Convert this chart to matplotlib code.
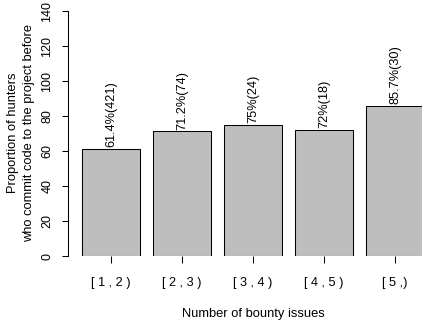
import matplotlib
matplotlib.use("Agg")
import matplotlib.pyplot as plt

plt.rcParams['font.family'] = ['Liberation Sans', 'DejaVu Sans']

categories = ["[ 1 , 2 )", "[ 2 , 3 )", "[ 3 , 4 )", "[ 4 , 5 )", "[ 5 ,)"]
proportions = [61.4, 71.2, 75, 72, 85.7]
bar_labels = ["61.4%(421)", "71.2%(74)", "75%(24)", "72%(18)", "85.7%(30)"]
y_ticks = [0, 20, 40, 60, 80, 100, 120, 140]

W, H = 422, 324
fig = plt.figure(figsize=(W / 100, H / 100), dpi=100)
# plot region runs past the right edge, as in the cropped original
ax = fig.add_axes([68 / W, (H - 256) / H, (438 - 68) / W, 256 / H])

x = list(range(len(categories)))
ax.bar(x, proportions, width=0.83, color="#bebebe", edgecolor="black", linewidth=0.75)

for xi, v, lab in zip(x, proportions, bar_labels):
    ax.text(xi + 0.01, v + 1.0, lab, rotation=90, ha="center", va="bottom", fontsize=9.2)

ax.set_xlim(-0.606, 4.606)
ax.set_ylim(0, 146.3)

ax.spines["top"].set_visible(False)
ax.spines["right"].set_visible(False)
ax.spines["bottom"].set_visible(False)
ax.spines["left"].set_bounds(0, 140)
ax.spines["left"].set_linewidth(0.75)

ax.set_xticks(x)
ax.set_xticklabels(categories, fontsize=9.2)
ax.set_yticks(y_ticks)
ax.set_yticklabels([str(t) for t in y_ticks], fontsize=9, rotation=90, va="center")
ax.tick_params(axis="x", direction="out", length=5, width=0.75, pad=10)
ax.tick_params(axis="y", direction="out", length=4.5, width=0.75, pad=6)

fig.text(253 / W, 1 - 314 / H, "Number of bounty issues", ha="center", va="center", fontsize=9.3)
fig.text(13 / W, 1 - 133 / H, "Proportion of hunters", rotation=90, ha="center", va="center", fontsize=9.3)
fig.text(29 / W, 1 - 133 / H, "who commit code to the project before", rotation=90, ha="center", va="center", fontsize=9.3)

fig.savefig("out.png", dpi=100)
